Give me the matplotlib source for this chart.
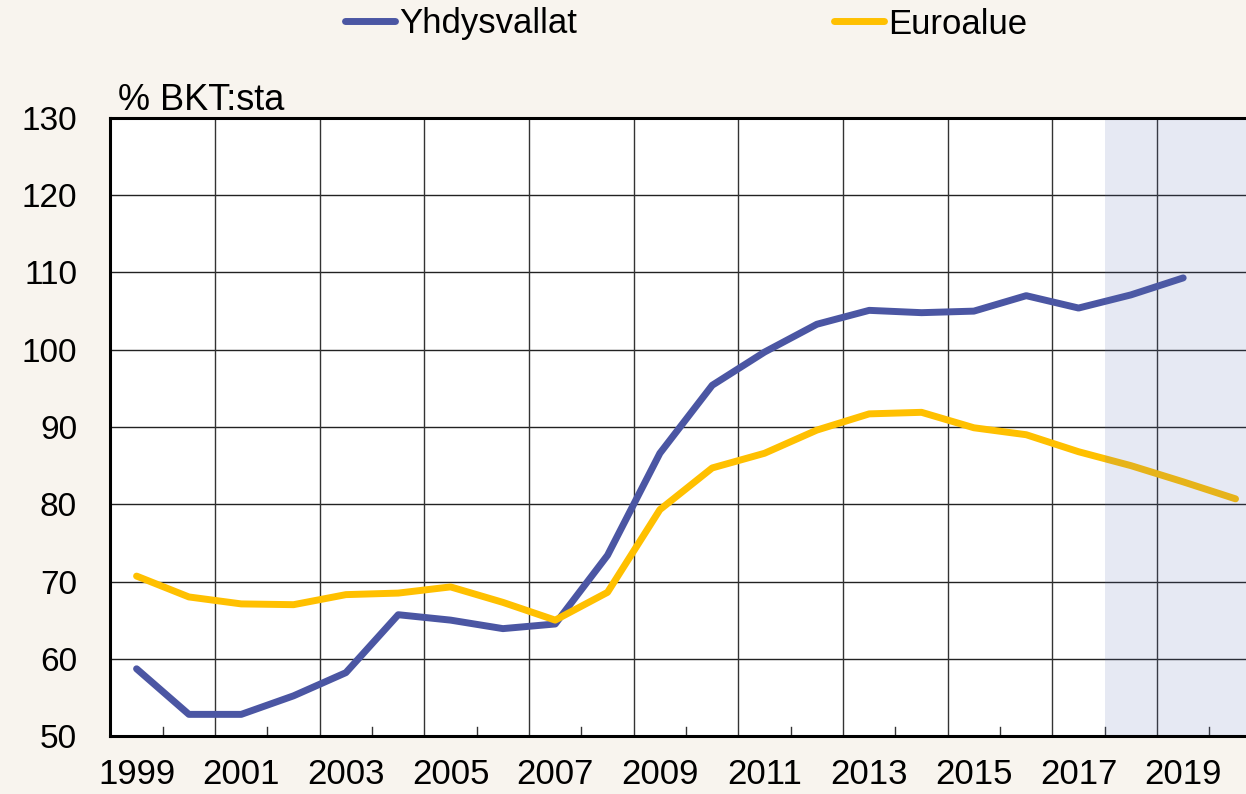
import matplotlib
matplotlib.use("Agg")
import matplotlib.pyplot as plt
from matplotlib import font_manager

years_us = list(range(1999, 2020))
us = [58.7, 52.8, 52.8, 55.2, 58.2, 65.7, 65.0, 63.9, 64.5, 73.4, 86.6,
      95.4, 99.7, 103.3, 105.1, 104.8, 105.0, 107.0, 105.4, 107.1, 109.3]
years_ea = list(range(1999, 2021))
ea = [70.7, 68.0, 67.1, 67.0, 68.3, 68.5, 69.3, 67.3, 65.0, 68.6, 79.3,
      84.7, 86.6, 89.6, 91.7, 91.9, 89.9, 89.0, 86.8, 85.0, 82.9, 80.7]
labels = ["Yhdysvallat", "Euroalue"]
xtick_years = list(range(1999, 2021, 2))
yticks = list(range(50, 131, 10))
forecast_start = 2017.5

names = {f.name for f in font_manager.fontManager.ttflist}
base = "Liberation Sans" if "Liberation Sans" in names else "DejaVu Sans"
plt.rcParams["font.family"] = [base, "DejaVu Sans"]

BG = "#f8f4ee"
C_US = "#4b56a3"
C_EA = "#ffc000"

fig = plt.figure(figsize=(12.46, 7.94), dpi=100, facecolor=BG)
ax = fig.add_axes([110.4 / 1246, (794 - 736) / 794, (1246 - 110.4) / 1246, (736 - 118) / 794])
ax.set_facecolor("white")

l1, = ax.plot(years_us, us, color=C_US, lw=5, solid_capstyle="round", solid_joinstyle="round", zorder=3)
l2, = ax.plot(years_ea, ea, color=C_EA, lw=5, solid_capstyle="round", solid_joinstyle="round", zorder=3)

ax.set_xlim(1998.5, 2020.2)
ax.set_ylim(50, 130)
ax.axvspan(forecast_start, 2021, color=(88 / 255, 108 / 255, 175 / 255), alpha=0.15, lw=0, zorder=5)

ax.set_yticks(yticks)
ax.set_yticklabels([str(v) for v in yticks], fontsize=24)
ax.set_xticks(xtick_years)
ax.set_xticklabels([str(v) for v in xtick_years], fontsize=25)
ax.tick_params(axis="x", length=0, pad=16)
ax.tick_params(axis="y", length=0, pad=24)

for y in yticks[1:-1]:
    ax.axhline(y, color="#222222", lw=1.0, zorder=1)
for x in range(2000, 2021, 2):
    ax.axvline(x + 0.5, color="#333333", lw=1.0, zorder=1)
for x in range(1999, 2021, 2):
    ax.plot([x + 0.5, x + 0.5], [50, 51.2], color="#333333", lw=1.0, zorder=1)

for s in ["left", "bottom", "top"]:
    ax.spines[s].set_linewidth(2.2)
    ax.spines[s].set_color("black")
    ax.spines[s].set_zorder(6)
ax.spines["right"].set_visible(False)

fig.text(118 / 1246, 1 - 100 / 794, "% BKT:sta", fontsize=26, va="center", ha="left")

leg = fig.legend([l1, l2], labels, loc="center", bbox_to_anchor=(686 / 1246, 1 - 24 / 794),
                 ncol=2, frameon=False, handlelength=1.44, handletextpad=0.12,
                 columnspacing=7.4, prop={"family": [base], "size": 25})

fig.savefig("out.png", dpi=100, facecolor=BG)
